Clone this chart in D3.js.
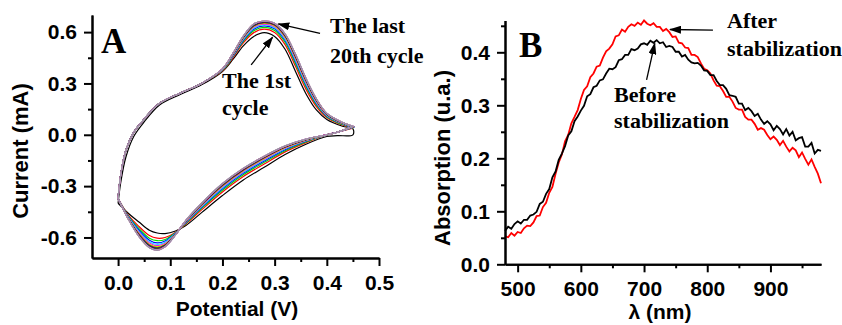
<!DOCTYPE html>
<html>
<head>
<meta charset="utf-8">
<title>CV cycles and absorption spectra</title>
<script src="https://cdn.jsdelivr.net/npm/d3@7"></script>
<style>
  body { margin: 0; background: #fff; }
</style>
</head>
<body>
<svg id="fig" width="842" height="325"></svg>
<script>
// ---------------- data: panel A (cyclic voltammetry, 20 cycles) ----------------
// potentials of the forward (anodic) sweep, 0 -> 0.45 V
var cvAnodicV = [0, 0.005, 0.015, 0.03, 0.05, 0.08, 0.12, 0.16, 0.20, 0.22, 0.24, 0.26, 0.28, 0.30, 0.32, 0.34, 0.36, 0.38, 0.40, 0.43, 0.45];
// potentials of the reverse (cathodic) sweep, 0.45 -> 0 V
var cvCathodicV = [0.45, 0.42, 0.40, 0.36, 0.32, 0.28, 0.24, 0.20, 0.16, 0.13, 0.11, 0.09, 0.075, 0.06, 0.04, 0.02, 0];

// current (mA) of every cycle on the anodic sweep, cycle 1 first
var cvAnodicI = [
  [-.400,-.280,-.130,-.010,.075,.175,.237,.292,.370,.440,.520,.575,.597,.575,.500,.370,.240,.145,.090,.050,.035],
  [-.372,-.235,-.090,.015,.092,.186,.245,.300,.374,.450,.537,.597,.617,.598,.527,.400,.267,.165,.101,.057,.039],
  [-.372,-.235,-.090,.015,.092,.186,.245,.300,.377,.456,.546,.608,.628,.610,.541,.415,.281,.174,.106,.060,.041],
  [-.372,-.235,-.090,.015,.092,.186,.245,.300,.379,.460,.552,.617,.636,.619,.551,.427,.291,.182,.110,.063,.043],
  [-.372,-.235,-.090,.015,.092,.186,.245,.300,.380,.463,.558,.623,.642,.626,.559,.436,.299,.188,.113,.065,.044],
  [-.372,-.235,-.090,.015,.092,.186,.245,.300,.381,.466,.562,.628,.647,.631,.566,.443,.306,.192,.116,.066,.045],
  [-.372,-.235,-.090,.015,.092,.186,.245,.300,.382,.468,.565,.633,.651,.636,.571,.449,.311,.196,.118,.067,.046],
  [-.372,-.235,-.090,.015,.092,.186,.245,.300,.383,.469,.568,.636,.654,.640,.576,.454,.316,.200,.119,.068,.047],
  [-.372,-.235,-.090,.015,.092,.186,.245,.300,.383,.471,.570,.639,.657,.643,.579,.458,.319,.202,.121,.069,.047],
  [-.372,-.235,-.090,.015,.092,.186,.245,.300,.384,.472,.572,.641,.659,.645,.582,.461,.322,.204,.122,.070,.048],
  [-.372,-.235,-.090,.015,.092,.186,.245,.300,.384,.473,.573,.643,.660,.647,.584,.463,.324,.205,.123,.070,.048],
  [-.372,-.235,-.090,.015,.092,.186,.245,.300,.384,.473,.574,.644,.662,.648,.586,.465,.326,.207,.123,.071,.048],
  [-.372,-.235,-.090,.015,.092,.186,.245,.300,.384,.474,.575,.645,.662,.649,.586,.466,.326,.207,.124,.071,.048],
  [-.372,-.235,-.090,.015,.092,.186,.245,.300,.385,.474,.575,.646,.663,.650,.587,.467,.327,.208,.124,.071,.049],
  [-.372,-.235,-.090,.015,.092,.186,.245,.300,.385,.474,.576,.647,.664,.650,.588,.468,.328,.209,.124,.072,.049],
  [-.372,-.235,-.090,.015,.092,.186,.245,.300,.385,.474,.576,.647,.664,.651,.589,.469,.329,.209,.124,.072,.049],
  [-.372,-.235,-.090,.015,.092,.186,.245,.300,.385,.475,.576,.647,.664,.651,.589,.469,.329,.209,.125,.072,.049],
  [-.372,-.235,-.090,.015,.092,.186,.245,.300,.385,.475,.577,.648,.665,.652,.590,.470,.330,.210,.125,.072,.049],
  [-.372,-.235,-.090,.015,.092,.186,.245,.300,.385,.475,.577,.648,.665,.652,.590,.470,.330,.210,.125,.072,.049],
  [-.372,-.235,-.090,.015,.092,.186,.245,.300,.385,.475,.577,.648,.665,.652,.590,.470,.330,.210,.125,.072,.049]
];
// current (mA) of every cycle on the cathodic sweep
var cvCathodicI = [
  [.000,-.005,-.010,-.055,-.115,-.190,-.264,-.355,-.455,-.530,-.562,-.577,-.574,-.558,-.510,-.460,-.400],
  [.039,.015,.000,-.046,-.100,-.171,-.244,-.334,-.439,-.521,-.569,-.600,-.604,-.589,-.536,-.471,-.372],
  [.041,.015,.000,-.042,-.093,-.161,-.233,-.324,-.430,-.517,-.572,-.612,-.619,-.604,-.548,-.476,-.372],
  [.043,.015,.000,-.038,-.087,-.153,-.225,-.315,-.424,-.513,-.575,-.621,-.632,-.616,-.558,-.480,-.372],
  [.044,.015,.000,-.035,-.082,-.147,-.219,-.309,-.419,-.510,-.577,-.628,-.641,-.625,-.566,-.483,-.372],
  [.045,.015,.000,-.033,-.079,-.143,-.214,-.304,-.415,-.508,-.579,-.634,-.648,-.632,-.572,-.486,-.372],
  [.046,.015,.000,-.031,-.076,-.139,-.210,-.300,-.412,-.506,-.580,-.639,-.654,-.639,-.577,-.488,-.372],
  [.047,.015,.000,-.030,-.073,-.135,-.207,-.296,-.409,-.505,-.581,-.643,-.659,-.644,-.581,-.489,-.372],
  [.047,.015,.000,-.029,-.071,-.133,-.204,-.293,-.407,-.504,-.582,-.646,-.663,-.648,-.585,-.491,-.372],
  [.048,.015,.000,-.028,-.070,-.131,-.202,-.291,-.405,-.503,-.583,-.648,-.666,-.651,-.587,-.492,-.372],
  [.048,.015,.000,-.027,-.069,-.130,-.201,-.290,-.404,-.502,-.583,-.650,-.668,-.653,-.589,-.493,-.372],
  [.048,.015,.000,-.027,-.068,-.128,-.199,-.289,-.403,-.502,-.584,-.651,-.670,-.655,-.591,-.493,-.372],
  [.048,.015,.000,-.026,-.067,-.128,-.199,-.288,-.402,-.501,-.584,-.652,-.671,-.656,-.592,-.494,-.372],
  [.049,.015,.000,-.026,-.067,-.127,-.198,-.287,-.402,-.501,-.584,-.653,-.672,-.657,-.592,-.494,-.372],
  [.049,.015,.000,-.026,-.066,-.126,-.197,-.286,-.401,-.501,-.585,-.653,-.673,-.658,-.593,-.494,-.372],
  [.049,.015,.000,-.025,-.066,-.126,-.197,-.286,-.401,-.500,-.585,-.654,-.673,-.658,-.594,-.494,-.372],
  [.049,.015,.000,-.025,-.066,-.126,-.197,-.286,-.401,-.500,-.585,-.654,-.674,-.659,-.594,-.495,-.372],
  [.049,.015,.000,-.025,-.065,-.125,-.196,-.285,-.400,-.500,-.585,-.655,-.674,-.659,-.595,-.495,-.372],
  [.049,.015,.000,-.025,-.065,-.125,-.196,-.285,-.400,-.500,-.585,-.655,-.675,-.660,-.595,-.495,-.372],
  [.049,.015,.000,-.025,-.065,-.125,-.196,-.285,-.400,-.500,-.585,-.655,-.675,-.660,-.595,-.495,-.372]
];
// Origin's default colour increment, one per cycle
var cycleColors = ['#000000','#ff0000','#00e000','#0000ff','#00ffff','#ff00ff','#e0e000','#808000','#000080','#800080',
                   '#800000','#008000','#008080','#0000a0','#ff8000','#8000ff','#ff0080','#d8d0d8','#b8b0c0','#9a8ea4'];

var cvXTicks = [0.0, 0.1, 0.2, 0.3, 0.4, 0.5];
var cvXMinor = [0.05, 0.15, 0.25, 0.35, 0.45];
var cvYTicks = [-0.6, -0.3, 0.0, 0.3, 0.6];
var cvYMinor = [-0.45, -0.15, 0.15, 0.45];

// ---------------- data: panel B (absorption spectra) ----------------
var wavelength = [480,485,490,495,500,505,510,515,520,525,530,535,540,545,550,555,560,565,570,575,
  580,585,590,595,600,605,610,615,620,625,630,635,640,645,650,655,660,665,670,675,
  680,685,690,695,700,705,710,715,720,725,730,735,740,745,750,755,760,765,770,775,
  780,785,790,795,800,805,810,815,820,825,830,835,840,845,850,855,860,865,870,875,
  880,885,890,895,900,905,910,915,920,925,930,935,940,945,950,955,960,965,970,975,980];
var absAfter = [.053,.051,.059,.054,.061,.059,.068,.073,.072,.079,.091,.092,.108,.116,.135,.146,.171,.192,.207,.232,
  .244,.266,.278,.291,.312,.329,.336,.353,.360,.373,.375,.390,.402,.407,.415,.430,.432,.443,.439,.448,
  .453,.450,.456,.452,.460,.454,.451,.455,.448,.448,.440,.444,.438,.429,.430,.418,.417,.409,.408,.395,
  .395,.391,.379,.369,.366,.360,.347,.337,.336,.327,.316,.316,.307,.295,.292,.292,.278,.273,.273,.265,
  .254,.257,.254,.244,.236,.241,.235,.225,.233,.222,.213,.220,.215,.202,.211,.199,.188,.198,.184,.171,.153];
var absBefore = [.063,.071,.067,.076,.081,.077,.084,.084,.092,.094,.099,.114,.118,.133,.142,.164,.175,.197,.209,.223,
  .243,.251,.270,.279,.290,.299,.317,.321,.334,.337,.347,.349,.360,.369,.368,.372,.385,.387,.395,.395,
  .406,.404,.407,.415,.417,.414,.422,.418,.423,.417,.419,.410,.412,.410,.401,.401,.392,.395,.386,.381,
  .379,.380,.375,.366,.365,.357,.357,.346,.338,.338,.331,.319,.318,.316,.303,.303,.291,.295,.289,.280,
  .284,.273,.265,.270,.264,.253,.261,.255,.245,.255,.243,.250,.234,.238,.240,.222,.222,.229,.209,.216,.214];
var specXTicks = [500, 600, 700, 800, 900];
var specXMinor = [550, 650, 750, 850, 950];
var specYTicks = [0.0, 0.1, 0.2, 0.3, 0.4];
var specYMinor = [0.05, 0.15, 0.25, 0.35, 0.45];

// ---------------- drawing ----------------
var SANS = '"Liberation Sans", Arial, sans-serif';
var SERIF = '"Liberation Serif", "Times New Roman", serif';

var svg = d3.select('#fig');
svg.append('rect').attr('width', 842).attr('height', 325).attr('fill', '#fff');

var defs = svg.append('defs');
defs.append('marker')
    .attr('id', 'head')
    .attr('markerUnits', 'userSpaceOnUse')
    .attr('markerWidth', 12).attr('markerHeight', 8)
    .attr('refX', 11).attr('refY', 4)
    .attr('orient', 'auto')
  .append('path')
    .attr('d', 'M0,0 L12,4 L0,8 Z')
    .attr('fill', '#000');

function styleAxis(g) {
  g.attr('font-family', SANS).attr('font-size', 21).attr('font-weight', 'bold');
  g.select('.domain').attr('stroke', '#000').attr('stroke-width', 2);
  g.selectAll('.tick line').attr('stroke', '#000').attr('stroke-width', 2);
  g.selectAll('.tick text').attr('fill', '#000');
}

function drawAxes(x, y, xt, xm, yt, ym, fmtX, fmtY) {
  var x0 = x.range()[0], y0 = y.range()[0];
  // minor ticks first, without labels
  svg.append('g').attr('transform', 'translate(0,' + y0 + ')')
      .call(d3.axisBottom(x).tickValues(xm).tickSize(4).tickSizeOuter(0).tickFormat(''))
      .call(styleAxis);
  svg.append('g').attr('transform', 'translate(' + x0 + ',0)')
      .call(d3.axisLeft(y).tickValues(ym).tickSize(4).tickSizeOuter(0).tickFormat(''))
      .call(styleAxis);
  svg.append('g').attr('transform', 'translate(0,' + y0 + ')')
      .call(d3.axisBottom(x).tickValues(xt).tickSize(8).tickSizeOuter(0).tickPadding(9).tickFormat(fmtX))
      .call(styleAxis);
  svg.append('g').attr('transform', 'translate(' + x0 + ',0)')
      .call(d3.axisLeft(y).tickValues(yt).tickSize(8).tickSizeOuter(0).tickPadding(7).tickFormat(fmtY))
      .call(styleAxis);
}

function label(txt, x, y, opts) {
  opts = opts || {};
  var t = svg.append('text')
      .attr('x', x).attr('y', y)
      .attr('font-family', opts.family || SANS)
      .attr('font-weight', 'bold')
      .attr('font-size', opts.size || 21)
      .attr('text-anchor', opts.anchor || 'start')
      .attr('fill', '#000')
      .text(txt);
  if (opts.rotate) t.attr('transform', 'rotate(-90,' + x + ',' + y + ')');
  return t;
}

function arrow(x, y, from, to) {
  svg.append('line')
      .attr('x1', x(from[0])).attr('y1', y(from[1]))
      .attr('x2', x(to[0])).attr('y2', y(to[1]))
      .attr('stroke', '#000').attr('stroke-width', 1.3)
      .attr('marker-end', 'url(#head)');
}

var f1 = function(d) { return d.toFixed(1); };

//************************** panel A *****************************************
var xA = d3.scaleLinear().domain([-0.05, 0.5]).range([92, 379]);
var yA = d3.scaleLinear().domain([-0.72, 0.70]).range([258, 15]);

var cvLine = d3.line()
    .x(function(d) { return xA(d[0]); })
    .y(function(d) { return yA(d[1]); })
    .curve(d3.curveCatmullRom.alpha(0.5));

var gCv = svg.append('g');
cvAnodicI.forEach(function(row, c) {
  var pts = cvAnodicV.map(function(v, i) { return [v, row[i]]; })
      .concat(cvCathodicV.map(function(v, i) { return [v, cvCathodicI[c][i]]; }));
  gCv.append('path')
      .attr('d', cvLine(pts))
      .attr('fill', 'none')
      .attr('stroke', cycleColors[c])
      .attr('stroke-width', 1.2);
});

drawAxes(xA, yA, cvXTicks, cvXMinor, cvYTicks, cvYMinor, f1, f1);
label('Potential (V)', 237, 316, {anchor: 'middle', size: 21});
label('Current (mA)', 28, 151, {anchor: 'middle', size: 22, rotate: true});
label('A', 101, 53, {family: SERIF, size: 35});

label('The last', 330, 33, {family: SERIF, size: 22});
label('20th cycle', 330, 63, {family: SERIF, size: 22});
label('The 1st', 222, 88, {family: SERIF, size: 22});
label('cycle', 222, 115, {family: SERIF, size: 22});
arrow(xA, yA, [0.387, 0.593], [0.307, 0.648]);
arrow(xA, yA, [0.255, 0.408], [0.296, 0.570]);

//************************** panel B *****************************************
var xB = d3.scaleLinear().domain([480, 980]).range([505, 821]);
var yB = d3.scaleLinear().domain([0, 0.46]).range([264.3, 20.5]);

var specLine = d3.line()
    .x(function(d, i) { return xB(wavelength[i]); })
    .y(function(d) { return yB(d); });

svg.append('path').attr('d', specLine(absAfter))
    .attr('fill', 'none').attr('stroke', '#ff0000').attr('stroke-width', 1.8);
svg.append('path').attr('d', specLine(absBefore))
    .attr('fill', 'none').attr('stroke', '#000').attr('stroke-width', 1.8);

drawAxes(xB, yB, specXTicks, specXMinor, specYTicks, specYMinor, d3.format('d'), f1);
label('\u03bb (nm)', 660, 319, {anchor: 'middle', size: 21});
label('Absorption (u.a.)', 450, 158, {anchor: 'middle', size: 22, rotate: true});
label('B', 519, 57, {family: SERIF, size: 35});

label('After', 727, 28, {family: SERIF, size: 22});
label('stabilization', 727, 56, {family: SERIF, size: 22});
label('Before', 614, 102, {family: SERIF, size: 22});
label('stabilization', 614, 128, {family: SERIF, size: 22});
arrow(xB, yB, [809, 0.442], [741, 0.443]);
arrow(xB, yB, [704, 0.348], [717, 0.417]);
</script>
</body>
</html>
